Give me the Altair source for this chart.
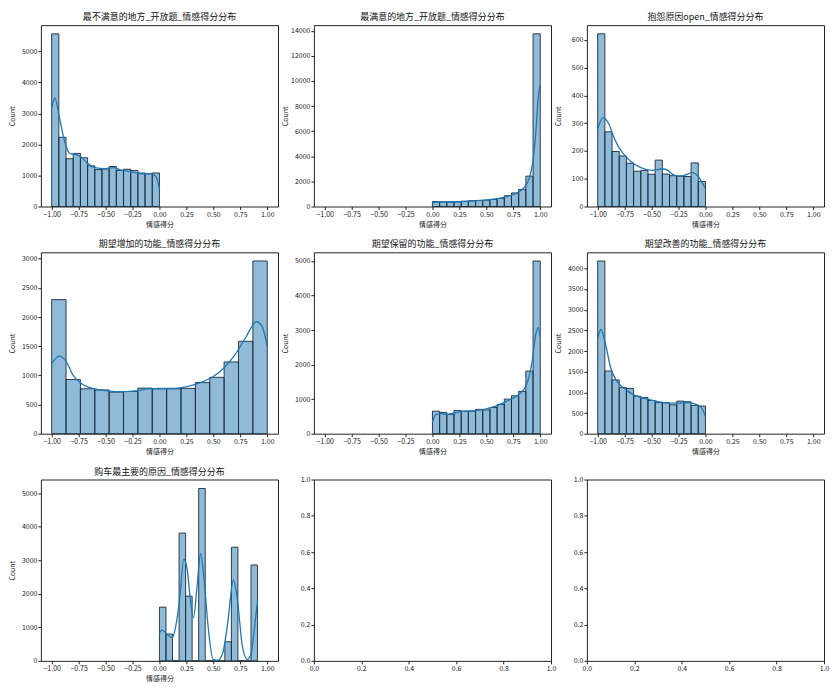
import altair as alt
import pandas as pd

titles = ["最不满意的地方_开放题_情感得分分布", "最满意的地方_开放题_情感得分分布",
          "抱怨原因open_情感得分分布", "期望增加的功能_情感得分分布",
          "期望保留的功能_情感得分分布", "期望改善的功能_情感得分分布",
          "购车最主要的原因_情感得分分布"]

# range covered by the 15 bins of each panel
bin_lo = [-1.0, 0.0, -1.0, -1.0, 0.0, -1.0, 0.0]
bin_hi = [0.0, 1.0, 0.0, 1.0, 1.0, 0.0, 0.91]

counts = [
    [5560, 2230, 1540, 1710, 1570, 1310, 1190, 1210, 1290, 1160, 1200, 1160, 1080, 1060, 1080],
    [400, 370, 360, 370, 420, 460, 480, 500, 560, 640, 860, 1080, 1360, 2420, 13750],
    [622, 269, 198, 182, 156, 127, 130, 116, 167, 117, 111, 109, 108, 157, 90],
    [2300, 930, 771, 750, 713, 724, 782, 771, 771, 777, 877, 967, 1231, 1585, 2963],
    [652, 616, 562, 670, 652, 652, 705, 688, 759, 848, 1000, 1098, 1223, 1812, 5000],
    [4178, 1517, 1301, 1115, 1093, 907, 877, 803, 751, 751, 699, 788, 773, 684, 669],
    [1600, 800, 0, 3810, 1930, 0, 5140, 0, 0, 0, 570, 3390, 0, 0, 2860],
]

# kde curves
kde_x = [
    [-1.0, -0.97, -0.93, -0.88, -0.83, -0.78, -0.73, -0.67, -0.6, -0.5, -0.43, -0.35, -0.25, -0.15, -0.07, -0.03, 0.0],
    [0.0, 0.05, 0.2, 0.4, 0.6, 0.7, 0.8, 0.85, 0.9, 0.93, 0.96, 0.98, 1.0],
    [-1.0, -0.95, -0.9, -0.85, -0.8, -0.75, -0.7, -0.6, -0.5, -0.4, -0.35, -0.3, -0.25, -0.2, -0.12, -0.07, -0.03, 0.0],
    [-1.0, -0.93, -0.87, -0.8, -0.7, -0.6, -0.5, -0.4, -0.3, -0.2, -0.1, 0.0, 0.1, 0.2, 0.3, 0.4, 0.5, 0.6, 0.7, 0.8, 0.9, 0.95, 1.0],
    [0.0, 0.03, 0.08, 0.13, 0.2, 0.3, 0.4, 0.5, 0.6, 0.7, 0.8, 0.87, 0.92, 0.96, 0.98, 1.0],
    [-1.0, -0.97, -0.93, -0.88, -0.83, -0.78, -0.72, -0.65, -0.55, -0.45, -0.35, -0.25, -0.18, -0.1, -0.05, -0.02, 0.0],
    [0.0, 0.024, 0.054, 0.09, 0.12, 0.15, 0.187, 0.226, 0.256, 0.286, 0.316, 0.346, 0.382, 0.415,
     0.452, 0.497, 0.542, 0.587, 0.632, 0.686, 0.723, 0.768, 0.813, 0.849, 0.879, 0.91],
]
kde_y = [
    [3150, 3500, 2900, 2100, 1700, 1680, 1600, 1400, 1250, 1220, 1250, 1170, 1110, 1050, 1050, 950, 550],
    [300, 360, 380, 450, 620, 800, 1150, 1500, 2300, 3500, 6000, 8600, 9700],
    [280, 320, 300, 250, 210, 185, 165, 140, 130, 135, 130, 115, 110, 112, 122, 110, 85, 65],
    [1200, 1330, 1250, 1000, 830, 770, 740, 720, 720, 740, 770, 775, 775, 790, 830, 890, 980, 1130, 1350, 1650, 1920, 1850, 1500],
    [330, 550, 580, 560, 600, 650, 670, 720, 810, 960, 1130, 1400, 2000, 2900, 3080, 2800],
    [2300, 2520, 2200, 1600, 1300, 1150, 1030, 920, 840, 780, 740, 740, 750, 720, 660, 550, 400],
    [826, 918, 845, 735, 690, 1010, 1836, 3030, 2755, 1836, 1286, 2112, 3196, 2388,
     1010, 46, 18, 230, 1102, 2406, 1836, 459, 46, 184, 918, 1790],
]

y_top = [5840, 14440, 653, 3111, 5250, 4387, 5408]
y_step = [1000, 2000, 100, 500, 1000, 500, 1000]

x_ticks = [-1.0, -0.75, -0.5, -0.25, 0.0, 0.25, 0.5, 0.75, 1.0]
empty_ticks = [0.0, 0.2, 0.4, 0.6, 0.8, 1.0]

W, H = 238, 182
FONT = "Noto Sans CJK SC"


def hist_panel(i):
    n = len(counts[i])
    w = (bin_hi[i] - bin_lo[i]) / n
    bars = pd.DataFrame({
        "start": [bin_lo[i] + k * w for k in range(n)],
        "end": [bin_lo[i] + (k + 1) * w for k in range(n)],
        "count": counts[i],
    })
    kde = pd.DataFrame({"score": kde_x[i], "density": kde_y[i]})

    xs = alt.Scale(domain=[-1.1, 1.1], nice=False, zero=False)
    ys = alt.Scale(domain=[0, y_top[i]], nice=False)
    yvals = list(range(0, y_top[i] + 1, y_step[i]))
    xaxis = alt.Axis(values=x_ticks, format=".2f")
    yaxis = alt.Axis(values=yvals, format="d")

    bar = alt.Chart(bars).mark_bar(
        fill="#1f77b4", fillOpacity=0.5, stroke="#1b2a38", strokeWidth=0.9
    ).encode(
        x=alt.X("start:Q", scale=xs, title="情感得分", axis=xaxis),
        x2="end:Q",
        y=alt.Y("count:Q", scale=ys, title="Count", axis=yaxis),
        y2=alt.datum(0),
    )
    line = alt.Chart(kde).mark_line(color="#1f77b4", strokeWidth=1.3, interpolate="monotone").encode(
        x=alt.X("score:Q", scale=xs, title="情感得分", axis=xaxis),
        y=alt.Y("density:Q", scale=ys, title="Count", axis=yaxis),
    )
    return alt.layer(bar, line).properties(width=W, height=H, title=titles[i])


def empty_panel():
    frame = pd.DataFrame({"x": [0.0, 1.0], "y": [0.0, 1.0]})
    return alt.Chart(frame).mark_point(opacity=0).encode(
        x=alt.X("x:Q", scale=alt.Scale(domain=[0, 1], nice=False), title=None,
                axis=alt.Axis(values=empty_ticks, format=".1f")),
        y=alt.Y("y:Q", scale=alt.Scale(domain=[0, 1], nice=False), title=None,
                axis=alt.Axis(values=empty_ticks, format=".1f")),
    ).properties(width=W, height=H)


panels = [hist_panel(i) for i in range(7)] + [empty_panel(), empty_panel()]

chart = alt.concat(*panels, columns=3, spacing={"row": 46, "column": 36}, bounds="flush").properties(
    padding={"top": 3, "left": 0, "right": 0, "bottom": 0}
).configure_view(
    stroke="#222", strokeWidth=1
).configure_axis(
    grid=False, domain=False, ticks=True, tickColor="#222", tickSize=3,
    labelFont=FONT, labelFontSize=7, labelColor="#222", labelPadding=1,
    titleFont=FONT, titleFontSize=7, titleFontWeight="normal", titleColor="#222", titlePadding=3,
    labelFlush=False, labelOverlap=False,
).configure_axisY(
    minExtent=22, maxExtent=22,
).configure_title(
    font=FONT, fontSize=9, fontWeight="normal", color="#111", offset=3, anchor="middle"
)

chart.save("out.html", embed_options={"renderer": "svg", "actions": False})
